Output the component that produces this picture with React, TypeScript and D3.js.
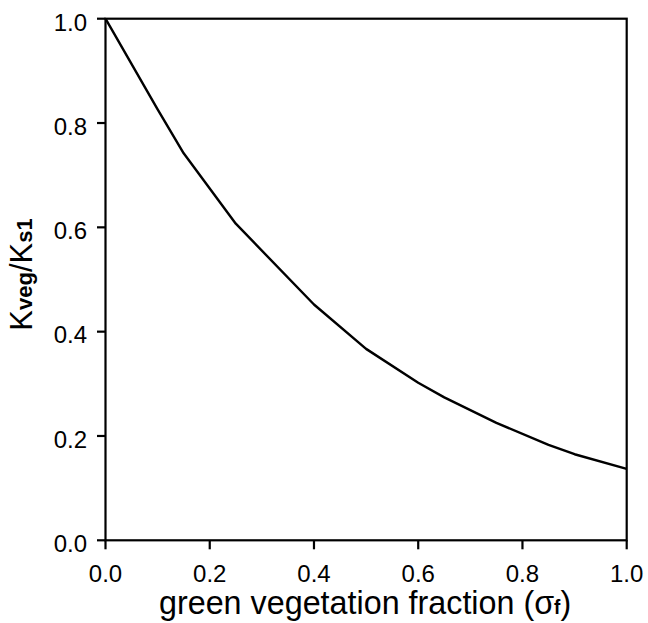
import { useEffect, useRef } from "react";
import * as d3 from "d3";

// curve vertices
const fractions = [0, 0.1, 0.15, 0.25, 0.4, 0.5, 0.6, 0.65, 0.75, 0.85, 0.9, 1.0];
const ratios = [1.0, 0.826, 0.742, 0.607, 0.452, 0.367, 0.302, 0.274, 0.225, 0.183, 0.165, 0.137];
const xTicks = [0, 0.2, 0.4, 0.6, 0.8, 1.0];
const yTicks = [0, 0.2, 0.4, 0.6, 0.8, 1.0];

const width = 648;
const height = 623;
const left = 105.5;
const right = 626.7;
const top = 18.7;
const bottom = 540.3;
const font = "'Liberation Sans', Arial, Helvetica, sans-serif";

export default function App() {
  const svgRef = useRef<SVGSVGElement | null>(null);

  useEffect(() => {
    if (!svgRef.current) return;
    const svg = d3.select(svgRef.current);
    svg.selectAll("*").remove();

    const x = d3.scaleLinear().domain([0, 1]).range([left, right]);
    const y = d3.scaleLinear().domain([0, 1]).range([bottom, top]);

    // frame
    svg
      .append("rect")
      .attr("x", left)
      .attr("y", top)
      .attr("width", right - left)
      .attr("height", bottom - top)
      .attr("fill", "none")
      .attr("stroke", "#000")
      .attr("stroke-width", 2.2);

    // y ticks + labels
    const yg = svg.append("g");
    yg.selectAll("line")
      .data(yTicks)
      .enter()
      .append("line")
      .attr("x1", left - 8.5)
      .attr("x2", left)
      .attr("y1", d => y(d))
      .attr("y2", d => y(d))
      .attr("stroke", "#000")
      .attr("stroke-width", 2.2);
    yg.selectAll("text")
      .data(yTicks)
      .enter()
      .append("text")
      .attr("x", left - 18.5)
      .attr("y", d => y(d) + 11.8)
      .attr("text-anchor", "end")
      .attr("font-family", font)
      .attr("font-size", 24)
      .text(d => d.toFixed(1));

    // x ticks + labels
    const xg = svg.append("g");
    xg.selectAll("line")
      .data(xTicks)
      .enter()
      .append("line")
      .attr("x1", d => x(d))
      .attr("x2", d => x(d))
      .attr("y1", bottom)
      .attr("y2", bottom + 9)
      .attr("stroke", "#000")
      .attr("stroke-width", 2.2);
    xg.selectAll("text")
      .data(xTicks)
      .enter()
      .append("text")
      .attr("x", d => x(d))
      .attr("y", 581.5)
      .attr("text-anchor", "middle")
      .attr("font-family", font)
      .attr("font-size", 24)
      .text(d => d.toFixed(1));

    // curve
    const line = d3
      .line<number>()
      .x((_d, i) => x(fractions[i]))
      .y(d => y(d));
    svg
      .append("path")
      .datum(ratios)
      .attr("d", line)
      .attr("fill", "none")
      .attr("stroke", "#000")
      .attr("stroke-width", 2.4)
      .attr("stroke-linejoin", "round");

    // x axis title
    const xt = svg
      .append("g")
      .attr("transform", `translate(${(left + right) / 2 - 1},614.3) scale(0.95,1)`)
      .append("text")
      .attr("text-anchor", "middle")
      .attr("font-family", font)
      .attr("font-size", 34);
    xt.append("tspan").text("green vegetation fraction (σ");
    xt.append("tspan").attr("font-weight", "bold").attr("font-size", 20).text("f");
    xt.append("tspan").text(")");

    // y axis title
    const yt = svg
      .append("g")
      .attr("transform", "translate(32.3,330.7) rotate(-90)")
      .append("text")
      .attr("font-family", font)
      .attr("font-size", 31);
    yt.append("tspan").text("K");
    yt.append("tspan").attr("font-weight", "bold").attr("font-size", 22).text("veg");
    yt.append("tspan").text("/K");
    yt.append("tspan").attr("font-weight", "bold").attr("font-size", 22).text("s1");
  }, []);

  return (
    <div style={{ position: "absolute", left: 0, top: 0 }}>
      <svg ref={svgRef} width={width} height={height} style={{ display: "block", background: "#fff" }} />
    </div>
  );
}
